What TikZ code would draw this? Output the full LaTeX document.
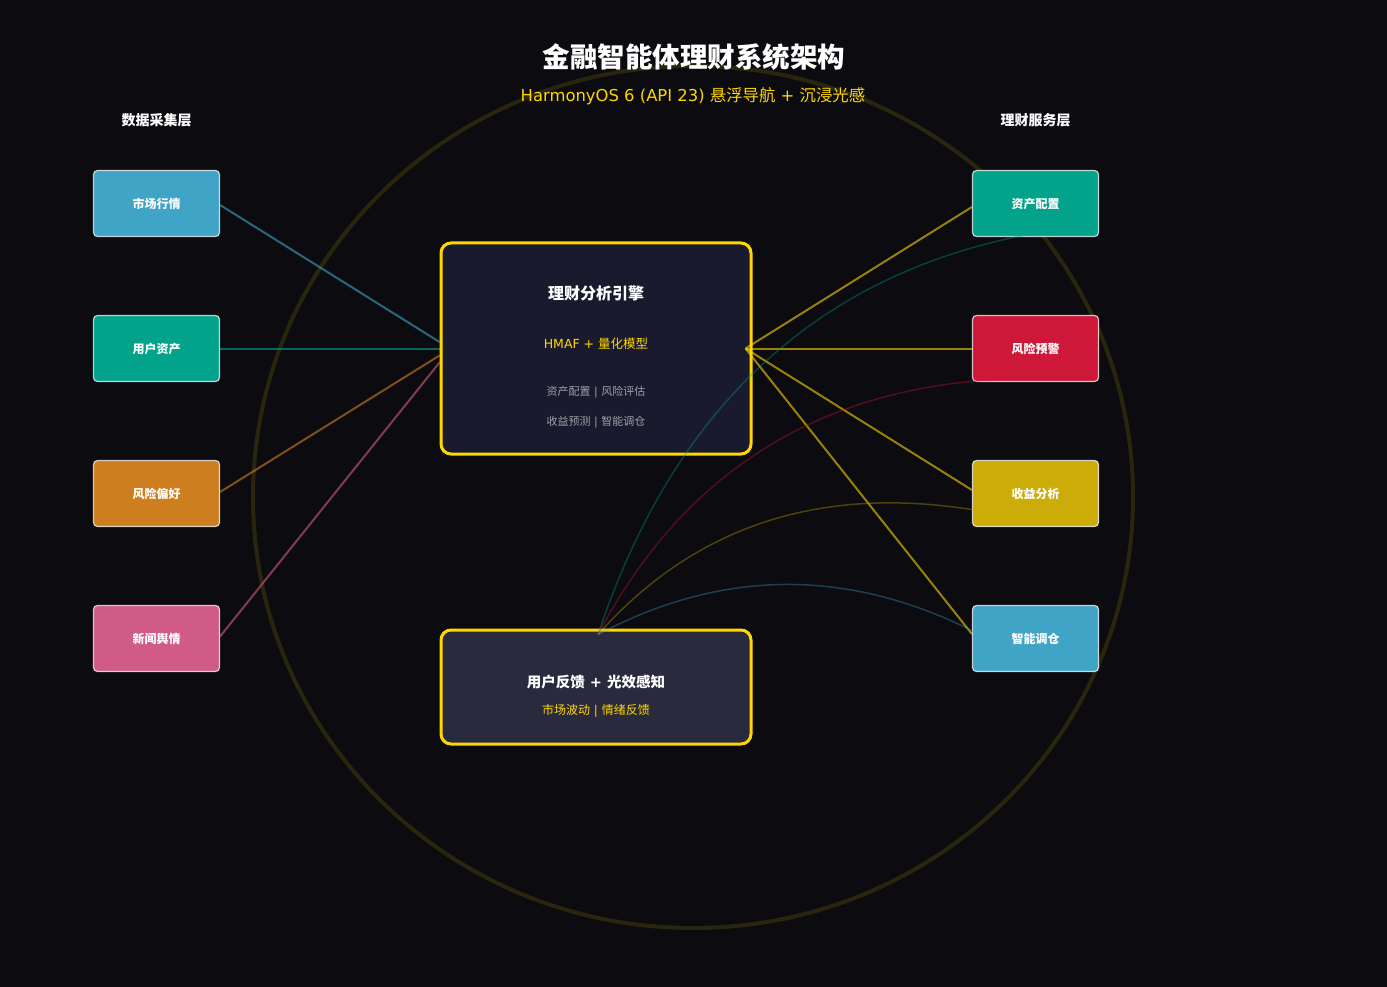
\documentclass[tikz,border=0pt]{standalone}
\usepackage{fontspec}
\setmainfont{Noto Sans CJK SC}
\newfontfamily\dv{DejaVu Sans}
\usetikzlibrary{calc}
\pgfdeclarelayer{back}
\pgfdeclarelayer{wires}
\pgfsetlayers{back,wires,main}
\definecolor{bg}{HTML}{0B0B10}
\definecolor{gold}{HTML}{FFD700}
\definecolor{engfill}{HTML}{1A1A2E}
\definecolor{fbfill}{HTML}{2A2A3E}
\definecolor{cBlue}{HTML}{40A4C6}
\definecolor{cTeal}{HTML}{02A38A}
\definecolor{cOrange}{HTML}{CD7F1F}
\definecolor{cPink}{HTML}{CF5B86}
\definecolor{cRed}{HTML}{CD1839}
\definecolor{cYellow}{HTML}{CCAC08}
\definecolor{txtgray}{HTML}{A0A0A8}
\tikzset{
  smallbox/.style={draw=white, draw opacity=0.75, line width=1.2pt, rounded corners=4pt,
    minimum width=126pt, minimum height=66pt, inner sep=0pt, text=white,
    font=\bfseries\fontsize{12}{14}\selectfont},
  bigbox/.style={draw=gold, line width=3pt, rounded corners=10pt, inner sep=0pt},
  inline/.style={line width=2pt, opacity=0.6},
  outline/.style={draw=gold, line width=2pt, opacity=0.58},
  arc/.style={line width=1.5pt, opacity=0.35},
  lbl/.style={inner sep=0pt, anchor=center}
}
\newcommand{\sep}{{\dv{} | }}
\begin{document}
\begin{tikzpicture}[x=1pt,y=-1pt]
\begin{pgfonlayer}{back}
\fill[bg] (0,0) rectangle (1387,987);
\draw[gold, opacity=0.13, line width=4pt] (693,497) ellipse [x radius=440pt, y radius=431pt];
\end{pgfonlayer}
\useasboundingbox (0,0) rectangle (1387,987);

% titles
\node[lbl, text=white, font=\bfseries\fontsize{27.5}{30}\selectfont] (title) at (694,57) {金融智能体理财系统架构};
\node[lbl, text=gold, font=\fontsize{16.4}{18}\selectfont] (subtitle) at (693,96) {{\dv HarmonyOS 6 (API 23) }悬浮导航{\dv{} + }沉浸光感};
\node[lbl, text=white, font=\bfseries\fontsize{14}{16}\selectfont] (layerL) at (156.5,120) {数据采集层};
\node[lbl, text=white, font=\bfseries\fontsize{14}{16}\selectfont] (layerR) at (1035.5,120) {理财服务层};

% left nodes
\node[smallbox, fill=cBlue] (m1) at (156.5,203.5) {市场行情};
\node[smallbox, fill=cTeal] (m2) at (156.5,348.5) {用户资产};
\node[smallbox, fill=cOrange] (m3) at (156.5,493.5) {风险偏好};
\node[smallbox, fill=cPink] (m4) at (156.5,638.5) {新闻舆情};

% central boxes
\node[bigbox, fill=engfill, minimum width=310pt, minimum height=211pt] (eng) at (596,348.5) {};
\node[bigbox, fill=fbfill, minimum width=310pt, minimum height=114pt] (fb) at (596,687) {};

% right nodes
\node[smallbox, fill=cTeal] (s1) at (1035.5,203.5) {资产配置};
\node[smallbox, fill=cRed] (s2) at (1035.5,348.5) {风险预警};
\node[smallbox, fill=cYellow] (s3) at (1035.5,493.5) {收益分析};
\node[smallbox, fill=cBlue] (s4) at (1035.5,638.5) {智能调仓};

% left connectors (under the boxes)
\begin{pgfonlayer}{wires}
\draw[inline, cBlue] ($(m1.east)+(0,1.5)$) -- ($(eng.west)+(0,-6.5)$);
\draw[inline, cTeal] (m2.east) -- (eng.west);
\draw[inline, cOrange] ($(m3.east)+(0,-1.5)$) -- ($(eng.west)+(0,7)$);
\draw[inline, cPink] ($(m4.east)+(0,-2)$) -- ($(eng.west)+(0,14)$);
\end{pgfonlayer}

% engine text
\node[lbl, text=white, font=\bfseries\fontsize{16}{18}\selectfont] (engT) at (596,293) {理财分析引擎};
\node[lbl, text=gold, font=\fontsize{12.5}{14}\selectfont] (engM) at (596,344) {{\dv HMAF + }量化模型};
\node[lbl, text=txtgray, font=\fontsize{11}{13}\selectfont] (engA) at (596,392) {资产配置\sep 风险评估};
\node[lbl, text=txtgray, font=\fontsize{11}{13}\selectfont] (engB) at (596,422) {收益预测\sep 智能调仓};

% feedback text
\node[lbl, text=white, font=\bfseries\fontsize{14.5}{16}\selectfont] (fbT) at (596,682) {用户反馈{\dv\bfseries{} + }光效感知};
\node[lbl, text=gold, font=\fontsize{12}{14}\selectfont] (fbS) at (596,711) {市场波动\sep 情绪反馈};

% hub coordinates
\coordinate (hub) at ($(eng.east)+(-7,0)$);
\coordinate (fbp) at ($(fb.north)+(2,6)$);

% right connectors
\draw[outline] (hub) -- ($(s1.west)+(0,3.5)$);
\draw[outline] (hub) -- (s2.west);
\draw[outline] (hub) -- ($(s3.west)+(0,-3.5)$);
\draw[outline] (hub) -- ($(s4.west)+(0,-4.5)$);

% feedback arcs (quadratic curves)
\coordinate (e1) at ($(s1.center)+(-2,30)$);
\coordinate (e2) at ($(s2.center)+(0,30)$);
\coordinate (e3) at ($(s3.center)+(-2,29)$);
\coordinate (e4) at ($(s4.center)+(0,29)$);
\coordinate (c1) at (712,292);
\coordinate (c2) at (733,378);
\coordinate (c3) at (760,452);
\coordinate (c4) at (814,520);
\draw[arc, cTeal] (fbp) .. controls ($(fbp)!0.6667!(c1)$) and ($(e1)!0.6667!(c1)$) .. (e1);
\draw[arc, cRed] (fbp) .. controls ($(fbp)!0.6667!(c2)$) and ($(e2)!0.6667!(c2)$) .. (e2);
\draw[arc, cYellow] (fbp) .. controls ($(fbp)!0.6667!(c3)$) and ($(e3)!0.6667!(c3)$) .. (e3);
\draw[arc, cBlue] (fbp) .. controls ($(fbp)!0.6667!(c4)$) and ($(e4)!0.6667!(c4)$) .. (e4);
\end{tikzpicture}
\end{document}
